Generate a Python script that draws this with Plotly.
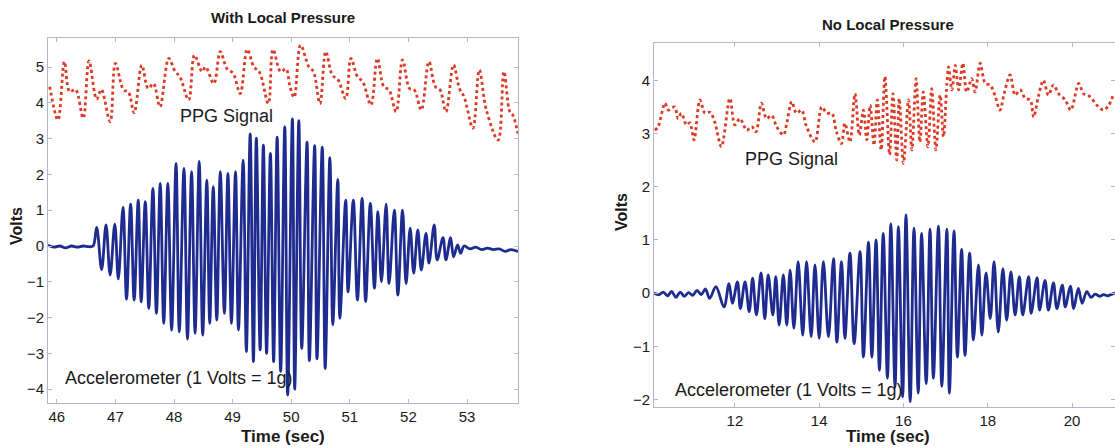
import plotly.graph_objects as go

# ---------------- Left panel: With Local Pressure ----------------
left_ppg_t = [45.88, 46.02, 46.13, 46.22, 46.32, 46.45, 46.55, 46.68, 46.76, 46.91,
              47.00, 47.14, 47.22, 47.32, 47.45, 47.56, 47.65, 47.76, 47.91, 48.02,
              48.10, 48.25, 48.35, 48.48, 48.54, 48.68, 48.79, 48.90, 49.01, 49.13,
              49.25, 49.36, 49.46, 49.61, 49.69, 49.82, 49.91, 49.98, 50.05, 50.16,
              50.30, 50.38, 50.49, 50.59, 50.70, 50.80, 50.93, 51.02, 51.13, 51.22,
              51.36, 51.47, 51.58, 51.67, 51.79, 51.90, 52.02, 52.10, 52.22, 52.35,
              52.46, 52.54, 52.64, 52.77, 52.87, 52.95, 53.10, 53.21, 53.33, 53.53,
              53.63, 53.73, 53.78, 53.87]
left_ppg_v = [4.45, 3.52, 5.15, 4.31, 4.37, 3.57, 5.17, 4.10, 4.37, 3.47,
              5.10, 4.36, 4.31, 3.72, 5.05, 4.40, 4.54, 3.89, 5.24, 4.87,
              4.73, 4.08, 5.33, 4.87, 5.00, 4.54, 5.43, 4.96, 4.82, 4.26,
              5.49, 5.01, 4.85, 3.98, 5.49, 4.87, 4.95, 4.45, 4.15, 5.61,
              5.01, 4.87, 3.98, 5.43, 4.78, 4.64, 4.12, 5.24, 4.73, 4.59,
              3.94, 5.24, 4.45, 4.36, 3.75, 5.20, 4.40, 4.36, 3.80, 5.15,
              4.45, 4.36, 3.75, 5.06, 4.40, 4.17, 3.29, 4.92, 3.80, 2.96,
              4.87, 3.75, 3.66, 3.14]

left_acc_t = [45.85, 45.95, 46.05, 46.15, 46.25, 46.35, 46.45, 46.55, 46.62,
              46.68, 46.765, 46.84, 46.91, 46.99, 47.05, 47.13, 47.19, 47.26, 47.32,
              47.39, 47.44, 47.51, 47.57, 47.64, 47.70, 47.765, 47.825, 47.895, 47.96,
              48.035, 48.09, 48.17, 48.23, 48.30, 48.36, 48.43, 48.49, 48.56, 48.61,
              48.67, 48.73, 48.79, 48.86, 48.92, 48.98, 49.05, 49.10, 49.18, 49.235,
              49.30, 49.355, 49.405, 49.47, 49.525, 49.58, 49.645, 49.70, 49.76, 49.82,
              49.89, 49.94, 50.02, 50.06, 50.13, 50.18, 50.27, 50.31, 50.40, 50.44,
              50.53, 50.58, 50.66, 50.71, 50.795, 50.83, 50.93, 50.97, 51.06, 51.13,
              51.21, 51.27, 51.35, 51.42, 51.48, 51.54, 51.62, 51.67, 51.76, 51.82,
              51.90, 51.96, 52.03, 52.09, 52.16, 52.22, 52.30, 52.35, 52.44, 52.49,
              52.59, 52.64, 52.72, 52.77, 52.84, 52.89,
              52.95, 53.05, 53.15, 53.25, 53.35, 53.45, 53.55, 53.65, 53.75, 53.87]
left_acc_v = [0.02, -0.03, 0.00, -0.05, 0.00, -0.03, 0.00, -0.02, 0.00,
              0.52, -0.66, 0.59, -0.81, 0.61, -0.92, 1.08, -1.48, 1.17, -1.51,
              1.28, -1.56, 1.24, -1.74, 1.61, -1.88, 1.75, -2.16, 1.75, -2.35,
              2.31, -2.40, 2.17, -2.60, 2.08, -2.44, 2.36, -2.49, 1.84, -2.16,
              1.66, -2.07, 2.08, -1.88, 2.03, -2.16, 2.08, -2.35, 2.40, -2.95,
              3.13, -3.23, 3.01, -2.90, 2.82, -3.00, 2.59, -3.23, 3.04, -3.50,
              3.33, -4.16, 3.55, -4.00, 3.50, -2.86, 2.90, -3.20, 2.80, -3.15,
              2.76, -3.42, 2.47, -2.20, 1.86, -2.02, 1.28, -1.28, 1.28, -1.51,
              1.33, -1.55, 1.19, -1.18, 0.96, -1.00, 1.17, -1.05, 1.00, -1.37,
              1.00, -1.05, 0.50, -0.76, 0.45, -0.67, 0.35, -0.48, 0.59, -0.39,
              0.23, -0.39, 0.23, -0.30, 0.03, -0.20,
              0.00, -0.08, -0.03, -0.10, -0.06, -0.10, -0.08, -0.15, -0.10, -0.15]

# ---------------- Right panel: No Local Pressure ----------------
right_ppg_t = [10.10, 10.18, 10.34, 10.42, 10.57, 10.65, 10.73, 10.85, 10.93, 11.03,
               11.17, 11.29, 11.41, 11.52, 11.68, 11.88, 12.00, 12.12, 12.28, 12.40,
               12.50, 12.63, 12.75, 12.87, 12.99, 13.15, 13.23, 13.35, 13.46, 13.58,
               13.70, 13.90, 14.06, 14.18, 14.30, 14.41, 14.53, 14.61, 14.73, 14.85,
               14.95, 15.05, 15.13, 15.21, 15.30, 15.38, 15.47, 15.56, 15.67, 15.75,
               15.84, 15.90, 16.00, 16.12, 16.20, 16.30, 16.39, 16.47, 16.58, 16.67,
               16.77, 16.87, 16.95, 17.03, 17.07, 17.15, 17.23, 17.31, 17.41, 17.50,
               17.62, 17.70, 17.82, 17.94, 18.06, 18.18, 18.29, 18.39, 18.53, 18.65,
               18.77, 18.89, 19.01, 19.09, 19.20, 19.32, 19.44, 19.56, 19.68, 19.84,
               19.97, 20.16, 20.27, 20.43, 20.59, 20.75, 20.87, 20.99]
right_ppg_v = [3.06, 3.13, 3.57, 3.44, 3.50, 3.28, 3.38, 3.16, 3.20, 2.88,
               3.63, 3.38, 3.40, 3.22, 2.75, 3.66, 3.16, 3.28, 3.06, 3.13,
               3.03, 3.57, 3.28, 3.34, 3.13, 2.97, 3.19, 3.60, 3.38, 3.44,
               3.13, 2.84, 3.50, 3.38, 3.38, 3.03, 2.81, 3.19, 2.84, 3.75,
               2.97, 3.44, 2.88, 3.53, 2.78, 3.63, 2.69, 4.07, 2.60, 3.75,
               2.50, 3.66, 2.44, 3.63, 2.69, 4.03, 2.84, 3.78, 2.75, 3.84,
               2.69, 3.72, 2.94, 3.94, 4.25, 3.82, 4.28, 3.82, 4.32, 3.78,
               4.03, 3.78, 4.32, 3.94, 3.91, 3.69, 3.44, 3.75, 4.10, 3.72,
               3.82, 3.66, 3.63, 3.31, 3.69, 4.00, 3.72, 3.91, 3.75, 3.63,
               3.44, 3.94, 3.75, 3.69, 3.53, 3.44, 3.53, 3.75]

right_acc_t = [10.08, 10.20, 10.30, 10.40, 10.50, 10.60, 10.70, 10.80, 10.90, 11.00,
               11.10, 11.20, 11.30, 11.40, 11.55,
               11.74, 11.86, 11.94, 12.06, 12.13, 12.24, 12.34, 12.42, 12.51, 12.62,
               12.71, 12.79, 12.90, 12.97, 13.05, 13.15, 13.23, 13.31, 13.40, 13.50,
               13.61, 13.70, 13.81, 13.90, 14.00, 14.10, 14.22, 14.34, 14.42, 14.53,
               14.61, 14.73, 14.83, 14.97, 15.05, 15.17, 15.25, 15.35, 15.43, 15.52,
               15.62, 15.70, 15.80, 15.88, 15.98, 16.06, 16.16, 16.25, 16.35, 16.43,
               16.54, 16.63, 16.71, 16.83, 16.91, 17.03, 17.09, 17.20, 17.28, 17.38,
               17.46, 17.57, 17.66, 17.78, 17.86, 17.96, 18.06, 18.15, 18.25, 18.36,
               18.45, 18.55, 18.65, 18.75, 18.83, 18.97, 19.03, 19.17, 19.23, 19.36,
               19.44, 19.56, 19.64, 19.77, 19.84, 19.96, 20.04, 20.15, 20.24, 20.35,
               20.45, 20.55, 20.65, 20.75, 20.85, 20.95, 21.02]
right_acc_v = [0.00, -0.03, 0.02, -0.05, 0.03, -0.08, 0.02, -0.06, 0.01, -0.04,
               0.05, -0.03, 0.08, -0.10, 0.12,
               -0.26, 0.18, -0.19, 0.21, -0.29, 0.21, -0.35, 0.28, -0.41, 0.38,
               -0.48, 0.34, -0.41, 0.31, -0.60, 0.34, -0.60, 0.43, -0.66, 0.59,
               -0.79, 0.59, -0.82, 0.53, -0.85, 0.59, -0.82, 0.65, -0.92, 0.59,
               -0.85, 0.75, -0.95, 0.78, -1.20, 0.96, -1.20, 1.00, -1.45, 1.12,
               -1.60, 1.30, -1.76, 1.25, -1.95, 1.47, -2.04, 1.22, -1.88, 1.12,
               -1.70, 1.20, -1.60, 1.26, -1.75, 1.20, -1.88, 1.17, -1.20, 0.82,
               -1.17, 0.75, -0.88, 0.53, -0.79, 0.38, -0.48, 0.59, -0.73, 0.46,
               -0.51, 0.40, -0.41, 0.31, -0.41, 0.31, -0.38, 0.29, -0.32, 0.24,
               -0.32, 0.19, -0.29, 0.15, -0.26, 0.13, -0.29, 0.09, -0.19, 0.03,
               -0.08, -0.02, -0.06, -0.03, -0.05, -0.02, 0.00]

left_xticks = [46, 47, 48, 49, 50, 51, 52, 53]
left_yticks = [-4, -3, -2, -1, 0, 1, 2, 3, 4, 5]
right_xticks = [12, 14, 16, 18, 20]
right_yticks = [-2, -1, 0, 1, 2, 3, 4]

titles = ["With Local Pressure", "No Local Pressure"]
label_ppg = "PPG Signal"
label_acc = "Accelerometer (1 Volts = 1g)"
x_title = "Time (sec)"
y_title = "Volts"

RED = "#dc3a26"
BLUE = "#1e2b8f"
FRAME = "#b4b4d0"
FONT = "Arial, Liberation Sans, sans-serif"
TXT = "#1a1a1a"

fig = go.Figure()
fig.add_trace(go.Scatter(x=left_ppg_t, y=left_ppg_v, mode="lines",
                         line=dict(color=RED, width=2.8, dash="dot", shape="spline", smoothing=1.0),
                         xaxis="x", yaxis="y", showlegend=False))
fig.add_trace(go.Scatter(x=left_acc_t, y=left_acc_v, mode="lines",
                         line=dict(color=BLUE, width=2.8, shape="spline", smoothing=1.0),
                         xaxis="x", yaxis="y", showlegend=False))
fig.add_trace(go.Scatter(x=right_ppg_t, y=right_ppg_v, mode="lines",
                         line=dict(color=RED, width=2.8, dash="dot", shape="spline", smoothing=0.9),
                         xaxis="x2", yaxis="y2", showlegend=False))
fig.add_trace(go.Scatter(x=right_acc_t, y=right_acc_v, mode="lines",
                         line=dict(color=BLUE, width=2.8, shape="spline", smoothing=1.0),
                         xaxis="x2", yaxis="y2", showlegend=False))

axis_common = dict(showgrid=False, zeroline=False, showline=True, linecolor=FRAME, linewidth=1,
                   mirror="ticks", ticks="inside", ticklen=4, tickcolor=FRAME,
                   tickfont=dict(family=FONT, size=15, color=TXT))

fig.update_layout(
    width=1115, height=448,
    margin=dict(l=0, r=0, t=0, b=0),
    paper_bgcolor="white", plot_bgcolor="white",
    xaxis=dict(domain=[48/1115, 518/1115], range=[45.85, 53.87], tickvals=left_xticks,
               anchor="y", **axis_common),
    yaxis=dict(domain=[1-403/448, 1-38/448], range=[-4.385, 5.81], tickvals=left_yticks,
               anchor="x", **axis_common),
    xaxis2=dict(domain=[654/1115, 1.0], range=[10.08, 21.02], tickvals=right_xticks,
                anchor="y2", **axis_common),
    yaxis2=dict(domain=[1-407/448, 1-43/448], range=[-2.14, 4.70], tickvals=right_yticks,
                anchor="x2", **axis_common),
)

ann = []
def A(text, x, y, size=14, bold=False, angle=0, xanchor="center"):
    ann.append(dict(text=("<b>%s</b>" % text) if bold else text, x=x/1115, y=1-y/448,
                    xref="paper", yref="paper", showarrow=False, xanchor=xanchor, yanchor="middle",
                    textangle=angle, font=dict(family=FONT, size=size, color=TXT)))

A(titles[0], 283, 18, size=15, bold=True)
A(titles[1], 888, 25, size=15, bold=True)
A(x_title, 283, 436, size=17, bold=True)
A(x_title, 888, 436, size=17, bold=True)
A(y_title, 16, 226, size=16, bold=True, angle=-90)
A(y_title, 621, 212, size=16, bold=True, angle=-90)
A(label_ppg, 178, 116, size=18, xanchor="left")
A(label_acc, 63, 378, size=18, xanchor="left")
A(label_ppg, 743, 159, size=18, xanchor="left")
A(label_acc, 673, 390, size=18, xanchor="left")
fig.update_layout(annotations=ann)

fig.write_html("out.html")
